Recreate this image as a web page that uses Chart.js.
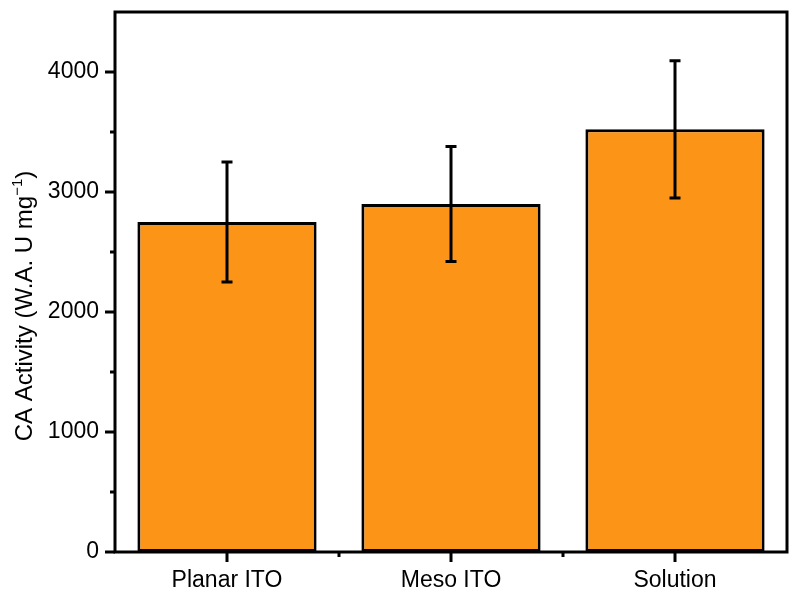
<!DOCTYPE html>
<html>
<head>
<meta charset="utf-8">
<script src="https://cdn.jsdelivr.net/npm/chart.js@4.4.1/dist/chart.umd.min.js"></script>
<style>
  html, body { margin: 0; padding: 0; background: #fff; }
  #wrap { width: 800px; height: 599px; }
</style>
</head>
<body>
<div id="wrap"><canvas id="chart" width="800" height="599"></canvas></div>
<script>
// 数据：三种条件下的 CA 活性（均值 ± 误差）
const categories = ['Planar ITO', 'Meso ITO', 'Solution'];
const activity = [2750, 2900, 3522];
const errors = [500, 480, 572];
const yMajorTicks = [0, 1000, 2000, 3000, 4000];
const yMinorTicks = [500, 1500, 2500, 3500];

const FONT = '"Liberation Sans", Arial, sans-serif';
const BAR_COLOR = '#fc9418';

// 误差线
const errorBarPlugin = {
    id: 'errorBars',
    afterDatasetsDraw(chart) {
        const { ctx, scales: { y } } = chart;
        const meta = chart.getDatasetMeta(0);
        ctx.save();
        ctx.strokeStyle = '#000';
        ctx.lineWidth = 3;
        meta.data.forEach((bar, i) => {
            const top = y.getPixelForValue(activity[i] + errors[i]);
            const bot = y.getPixelForValue(activity[i] - errors[i]);
            ctx.beginPath();
            ctx.moveTo(bar.x, top);
            ctx.lineTo(bar.x, bot);
            ctx.moveTo(bar.x - 5.5, top);
            ctx.lineTo(bar.x + 5.5, top);
            ctx.moveTo(bar.x - 5.5, bot);
            ctx.lineTo(bar.x + 5.5, bot);
            ctx.stroke();
        });
        ctx.restore();
    }
};

// 边框、刻度线与纵轴标题
const framePlugin = {
    id: 'frame',
    afterDraw(chart) {
        const { ctx, chartArea: a, scales: { x, y } } = chart;
        ctx.save();
        ctx.strokeStyle = '#000';
        ctx.lineWidth = 3;
        ctx.strokeRect(a.left, a.top, a.right - a.left, a.bottom - a.top);

        ctx.beginPath();
        yMajorTicks.forEach(v => {
            const py = y.getPixelForValue(v);
            ctx.moveTo(a.left - 10, py);
            ctx.lineTo(a.left, py);
        });
        yMinorTicks.forEach(v => {
            const py = y.getPixelForValue(v);
            ctx.moveTo(a.left - 5, py);
            ctx.lineTo(a.left, py);
        });
        categories.forEach((c, i) => {
            const px = x.getPixelForValue(i);
            ctx.moveTo(px, a.bottom);
            ctx.lineTo(px, a.bottom + 10);
        });
        for (let i = 0; i < categories.length - 1; i++) {
            const px = (x.getPixelForValue(i) + x.getPixelForValue(i + 1)) / 2;
            ctx.moveTo(px, a.bottom);
            ctx.lineTo(px, a.bottom + 5);
        }
        ctx.stroke();

        // 纵轴标题，带上标 −1
        const main = 'CA Activity (W.A. U mg';
        const sup = '\u22121';
        const tail = ')';
        ctx.fillStyle = '#000';
        ctx.textBaseline = 'alphabetic';
        ctx.textAlign = 'left';
        ctx.font = `24px ${FONT}`;
        const wMain = ctx.measureText(main).width;
        const wTail = ctx.measureText(tail).width;
        ctx.font = `15px ${FONT}`;
        const wSup = ctx.measureText(sup).width;
        const total = wMain + wSup + wTail;
        ctx.translate(32, 306);
        ctx.rotate(-Math.PI / 2);
        let tx = -total / 2;
        ctx.font = `24px ${FONT}`;
        ctx.fillText(main, tx, 0);
        tx += wMain;
        ctx.font = `15px ${FONT}`;
        ctx.fillText(sup, tx, -10);
        tx += wSup;
        ctx.font = `24px ${FONT}`;
        ctx.fillText(tail, tx, 0);
        ctx.restore();
    }
};

new Chart(document.getElementById('chart'), {
    type: 'bar',
    data: {
        labels: categories,
        datasets: [{
            data: activity,
            backgroundColor: BAR_COLOR,
            borderColor: '#000',
            borderWidth: 3,
            borderSkipped: false,
            barPercentage: 0.8,
            categoryPercentage: 1.0
        }]
    },
    options: {
        responsive: false,
        animation: false,
        layout: { padding: { top: 12, right: 13, left: 0, bottom: 0 } },
        plugins: { legend: { display: false }, tooltip: { enabled: false } },
        scales: {
            x: {
                grid: { display: false, drawTicks: false },
                border: { display: false },
                ticks: { color: '#000', font: { family: FONT, size: 23 }, padding: 15, maxRotation: 0 },
                afterFit: s => { s.height = 47; s.paddingLeft = 0; s.paddingRight = 0; }
            },
            y: {
                min: 0,
                max: 4500,
                grid: { display: false, drawTicks: false },
                border: { display: false },
                ticks: {
                    stepSize: 500,
                    color: '#000',
                    font: { family: FONT, size: 23 },
                    padding: 16,
                    callback: v => (v % 1000 === 0 ? String(v) : '')
                },
                afterFit: s => { s.width = 115; s.paddingTop = 0; s.paddingBottom = 0; }
            }
        }
    },
    plugins: [errorBarPlugin, framePlugin]
});
</script>
</body>
</html>
